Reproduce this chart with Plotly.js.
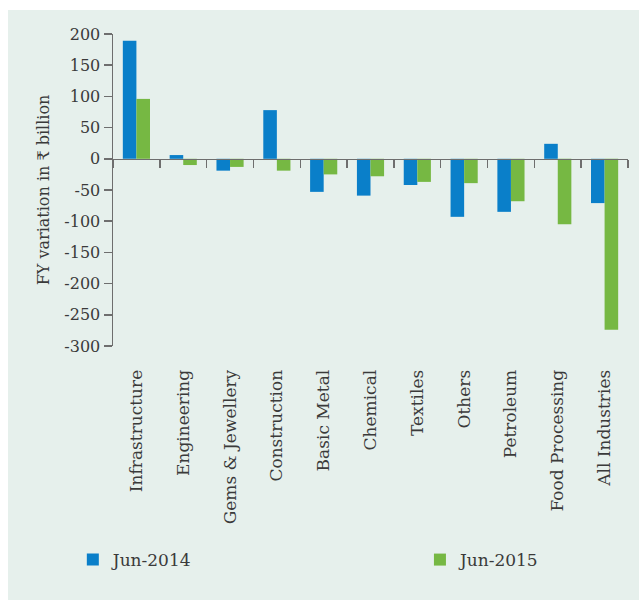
<!DOCTYPE html>
<html>
<head>
<meta charset="utf-8">
<script src="https://cdn.plot.ly/plotly-3.0.1.min.js"></script>
<style>
html,body{margin:0;padding:0;background:#ffffff;}
#chart{position:absolute;left:8px;top:10px;width:631px;height:590px;}
</style>
</head>
<body>
<div id="chart"></div>
<script>
const categories = ["Infrastructure","Engineering","Gems & Jewellery","Construction","Basic Metal","Chemical","Textiles","Others","Petroleum","Food Processing","All Industries"];
const jun2014 = [189, 6, -19, 78, -53, -59, -42, -93, -85, 24, -71];
const jun2015 = [96, -10, -13, -19, -25, -28, -37, -39, -68, -105, -274];
const yTicks = [200,150,100,50,0,-50,-100,-150,-200,-250,-300];
const yTickText = yTicks.map(v => String(v));

const boundaries = categories.map((c,i)=>i-0.5).concat([categories.length-0.5]);
const fontFam = "DejaVu Serif, serif";
const axisCol = "#6e6e6e";
const txtCol = "#3a3a3a";

const data = [
  {type:"bar", name:"Jun-2014", x:categories, y:jun2014, marker:{color:"#0a7fc9"}, hoverinfo:"skip", legend:"legend"},
  {type:"bar", name:"Jun-2015", x:categories, y:jun2015, marker:{color:"#76b843"}, hoverinfo:"skip", legend:"legend2"},
  {type:"scatter", x:[], y:[], xaxis:"x2", yaxis:"y", showlegend:false, hoverinfo:"skip"}
];

const legBase = {orientation:"h", xanchor:"left", y:-0.686, yanchor:"middle",
  font:{size:17, family:fontFam, color:txtCol}, bgcolor:"rgba(0,0,0,0)", itemwidth:30};

const layout = {
  width:631, height:590,
  margin:{l:105, r:11, t:24, b:254},
  paper_bgcolor:"#e6f0ec", plot_bgcolor:"rgba(0,0,0,0)",
  font:{family:fontFam, color:txtCol},
  barmode:"group", bargap:0.42, bargroupgap:0,
  showlegend:true,
  legend:Object.assign({}, legBase, {x:-0.078}),
  legend2:Object.assign({}, legBase, {x:0.596}),
  xaxis:{type:"category", categoryorder:"array", categoryarray:categories,
         range:[-0.5, categories.length-0.5],
         showline:false, showgrid:false, zeroline:false,
         ticks:"outside", ticklen:16, tickcolor:"rgba(0,0,0,0)",
         tickangle:-90, tickfont:{size:17, family:fontFam, color:txtCol}},
  xaxis2:{overlaying:"x", anchor:"free", position:0.6, type:"linear",
          range:[-0.5, categories.length-0.5],
          tickmode:"array", tickvals:boundaries, ticks:"outside", ticklen:8, tickwidth:1.5, tickcolor:axisCol,
          showticklabels:false, showline:true, linecolor:axisCol, linewidth:1.5,
          showgrid:false, zeroline:false},
  yaxis:{range:[-300,200], tickmode:"array", tickvals:yTicks, ticktext:yTickText,
         ticks:"outside", ticklen:8, tickwidth:1.5, tickcolor:axisCol,
         showline:true, linecolor:axisCol, linewidth:1.5, showgrid:false, zeroline:false,
         tickfont:{size:16, family:fontFam, color:txtCol},
         title:{text:"FY variation in ₹ billion", font:{size:16, family:fontFam, color:txtCol}, standoff:10}}
};

Plotly.newPlot("chart", data, layout, {displayModeBar:false, staticPlot:true});
</script>
</body>
</html>
